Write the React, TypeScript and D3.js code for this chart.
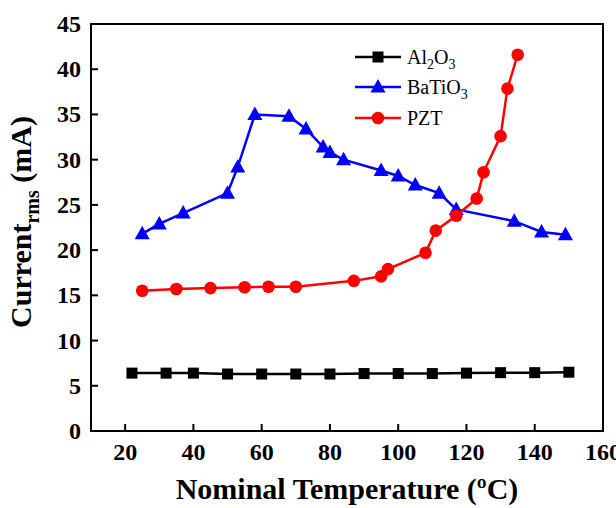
import React from "react";
import * as d3 from "d3";

const al2o3T = [22, 32, 40, 50, 60, 70, 80, 90, 100, 110, 120, 130, 140, 150];
const al2o3V = [6.4, 6.4, 6.4, 6.3, 6.3, 6.3, 6.3, 6.35, 6.35, 6.35, 6.4, 6.45, 6.45, 6.5];

const batioT = [25, 30, 37, 50, 53, 58, 68, 73, 78, 80, 84, 95, 100, 105, 112, 117, 134, 142, 149];
const batioV = [21.8, 22.9, 24.1, 26.3, 29.2, 35.0, 34.8, 33.4, 31.4, 30.8, 30.0, 28.8, 28.2, 27.2, 26.3, 24.5, 23.2, 22.0, 21.7];

const pztT = [25, 35, 45, 55, 62, 70, 87, 95, 97, 108, 111, 117, 123, 125, 130, 132, 135];
const pztV = [15.5, 15.7, 15.8, 15.9, 15.95, 15.95, 16.6, 17.1, 17.9, 19.7, 22.15, 23.8, 25.7, 28.6, 32.6, 37.85, 41.6];

const xTicks = [20, 40, 60, 80, 100, 120, 140, 160];
const yTicks = [0, 5, 10, 15, 20, 25, 30, 35, 40, 45];

const W = 616, H = 508;
const L = 91, R = 603, T = 24, B = 431;
const FONT = "Liberation Serif, Times New Roman, serif";

type Series = { name: string; xs: number[]; ys: number[]; color: string; marker: "square" | "triangle" | "circle" };
const series: Series[] = [
  { name: "Al2O3", xs: al2o3T, ys: al2o3V, color: "#000000", marker: "square" },
  { name: "BaTiO3", xs: batioT, ys: batioV, color: "#0000ff", marker: "triangle" },
  { name: "PZT", xs: pztT, ys: pztV, color: "#ff0000", marker: "circle" },
];

function Marker({ kind, x, y, color }: { kind: string; x: number; y: number; color: string }) {
  if (kind === "square") return <rect x={x - 5.5} y={y - 5.5} width={11} height={11} fill={color} />;
  if (kind === "triangle") {
    const p = `${x},${y - 8} ${x - 7.5},${y + 5.5} ${x + 7.5},${y + 5.5}`;
    return <polygon points={p} fill={color} />;
  }
  return <circle cx={x} cy={y} r={6.3} fill={color} />;
}

function Label({ name }: { name: string }) {
  if (name === "Al2O3")
    return (
      <>
        Al<tspan dy={5} fontSize={14}>2</tspan>
        <tspan dy={-5}>O</tspan>
        <tspan dy={5} fontSize={14}>3</tspan>
      </>
    );
  if (name === "BaTiO3")
    return (
      <>
        BaTiO<tspan dy={5} fontSize={14}>3</tspan>
      </>
    );
  return <>{name}</>;
}

export default function App() {
  const x = d3.scaleLinear().domain([10, 160]).range([L, R]);
  const y = d3.scaleLinear().domain([0, 45]).range([B, T]);
  const line = d3
    .line<[number, number]>()
    .x((d) => x(d[0]))
    .y((d) => y(d[1]));

  const legendRows = [57, 87, 118];
  const ts = { fontFamily: FONT };

  return (
    <svg width={W} height={H} style={{ position: "absolute", left: 0, top: 0, background: "#fff", fontFamily: FONT }}>
      <rect x={0} y={0} width={W} height={H} fill="#fff" />
      {xTicks.map((t) => (
        <g key={"xt" + t}>
          <line x1={x(t)} x2={x(t)} y1={B} y2={B - 7} stroke="#000" strokeWidth={2} />
          <text x={x(t)} y={460} textAnchor="middle" fontSize={24} fontWeight="bold" style={ts}>
            {t}
          </text>
        </g>
      ))}
      {yTicks.map((t) => (
        <g key={"yt" + t}>
          <line x1={L} x2={L + 7} y1={y(t)} y2={y(t)} stroke="#000" strokeWidth={2} />
          <text x={81} y={y(t) + 8} textAnchor="end" fontSize={24} fontWeight="bold" style={ts}>
            {t}
          </text>
        </g>
      ))}
      <rect x={L} y={T} width={R - L} height={B - T} fill="none" stroke="#000" strokeWidth={2} />

      {series.map((s) => {
        const pts: [number, number][] = s.xs.map((v, i) => [v, s.ys[i]]);
        return (
          <g key={s.name}>
            <path d={line(pts) || ""} fill="none" stroke={s.color} strokeWidth={2.5} />
            {pts.map((p, i) => (
              <Marker key={i} kind={s.marker} x={x(p[0])} y={y(p[1])} color={s.color} />
            ))}
          </g>
        );
      })}

      {series.map((s, i) => (
        <g key={"lg" + s.name}>
          <line x1={355} x2={401} y1={legendRows[i]} y2={legendRows[i]} stroke={s.color} strokeWidth={2.5} />
          <Marker kind={s.marker} x={378} y={legendRows[i]} color={s.color} />
          <text x={407} y={legendRows[i] + 7} fontSize={20} style={ts}>
            <Label name={s.name} />
          </text>
        </g>
      ))}

      <text x={(L + R) / 2} y={499} textAnchor="middle" fontSize={30} fontWeight="bold" style={ts}>
        Nominal Temperature (ºC)
      </text>
      <text transform={`translate(31, 222) rotate(-90)`} textAnchor="middle" fontSize={30} fontWeight="bold" style={ts}>
        Current<tspan dy={8} fontSize={20}>rms</tspan>
        <tspan dy={-8}> (mA)</tspan>
      </text>
    </svg>
  );
}
